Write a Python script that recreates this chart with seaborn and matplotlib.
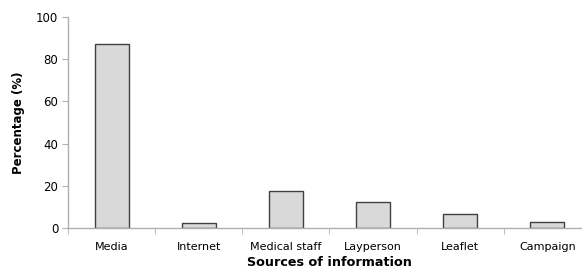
import matplotlib
matplotlib.use('Agg')
import matplotlib.pyplot as plt
import seaborn as sns
import numpy as np

sources = ['Media', 'Internet', 'Medical staff', 'Layperson', 'Leaflet', 'Campaign']
percentages = [87.2, 2.6, 17.4, 12.2, 6.5, 2.7]

sns.set_style('white')
plt.rcParams['font.family'] = ['DejaVu Sans']
plt.rcParams['text.color'] = 'black'
plt.rcParams['axes.labelcolor'] = 'black'
plt.rcParams['xtick.labelcolor'] = 'black'
plt.rcParams['ytick.labelcolor'] = 'black'

fig = plt.figure(figsize=(5.82, 2.71), dpi=100)
ax = fig.add_axes([68 / 582, 43 / 271, 523 / 582, 211 / 271])

sns.barplot(x=sources, y=percentages, ax=ax, color='#d9d9d9', edgecolor='#404040',
            linewidth=1.0, width=0.39, saturation=1)

ax.set_xlim(-0.5, len(sources) - 0.5)
ax.set_ylim(0, 100)
ax.set_yticks([0, 20, 40, 60, 80, 100])

spine_color = '#b0b0b0'
for side in ['top', 'right']:
    ax.spines[side].set_visible(False)
for side in ['left', 'bottom']:
    ax.spines[side].set_color(spine_color)
    ax.spines[side].set_linewidth(1.0)

ax.tick_params(axis='y', direction='out', length=4, color=spine_color, labelsize=8.5, pad=3, left=True)
ax.tick_params(axis='x', which='major', length=0, labelsize=8, pad=10)
ax.set_xticks(np.arange(-0.5, len(sources)), minor=True)
ax.tick_params(axis='x', which='minor', direction='out', length=4, color=spine_color, bottom=True)

ax.set_ylabel('Percentage (%)', fontsize=8.5, fontweight='bold', labelpad=8)
ax.set_xlabel('Sources of information', fontsize=9.2, fontweight='bold', labelpad=3)

fig.savefig('out.png', dpi=100)
